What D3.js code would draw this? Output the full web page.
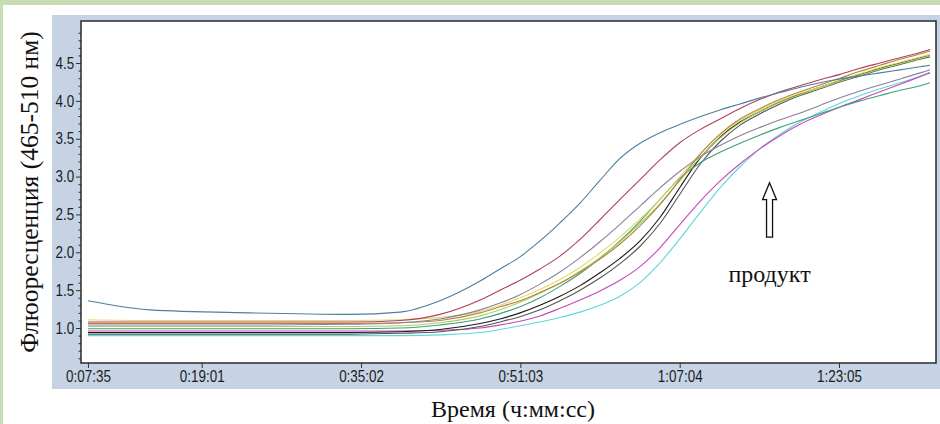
<!DOCTYPE html>
<html>
<head>
<meta charset="utf-8">
<script src="https://cdn.jsdelivr.net/npm/d3@7"></script>
<style>
  body { margin: 0; background: #ffffff; }
  svg { display: block; }
</style>
</head>
<body>
<script>
// time points, seconds from start
var times = [455, 829, 1432, 2035, 2337, 2578, 2820, 2940, 3061, 3181, 3302, 3423, 3543, 3664, 3785,
             3905, 4026, 4146, 4267, 4388, 4509, 4629, 4750, 4870, 4991, 5112, 5232, 5353, 5474, 5534];

// fluorescence curves, one per sample
var steelBlue = [1.36, 1.24, 1.20, 1.18, 1.21, 1.36, 1.62, 1.78, 1.94, 2.15, 2.39, 2.65, 2.95, 3.24, 3.44,
                 3.58, 3.69, 3.79, 3.88, 3.96, 4.04, 4.11, 4.18, 4.24, 4.29, 4.33, 4.37, 4.41, 4.45, 4.47];
var red       = [1.08, 1.08, 1.08, 1.08, 1.10, 1.18, 1.37, 1.50, 1.63, 1.78, 1.95, 2.17, 2.43, 2.70, 2.96,
                 3.22, 3.45, 3.62, 3.76, 3.90, 4.02, 4.12, 4.20, 4.28, 4.35, 4.43, 4.50, 4.57, 4.64, 4.68];
var greyViolet = [1.04, 1.04, 1.04, 1.05, 1.07, 1.12, 1.24, 1.33, 1.44, 1.58, 1.74, 1.93, 2.14, 2.37, 2.61,
                 2.85, 3.07, 3.26, 3.41, 3.54, 3.65, 3.75, 3.84, 3.94, 4.04, 4.13, 4.21, 4.29, 4.37, 4.41];
var yellow    = [1.11, 1.10, 1.10, 1.10, 1.11, 1.14, 1.22, 1.30, 1.40, 1.51, 1.64, 1.80, 1.99, 2.20, 2.44,
                 2.70, 3.00, 3.30, 3.55, 3.74, 3.88, 4.00, 4.10, 4.18, 4.28, 4.36, 4.44, 4.51, 4.58, 4.62];
var lightGreen = [1.02, 1.02, 1.02, 1.02, 1.03, 1.07, 1.16, 1.24, 1.34, 1.46, 1.59, 1.75, 1.93, 2.14, 2.38,
                 2.64, 2.95, 3.25, 3.51, 3.71, 3.86, 3.98, 4.08, 4.17, 4.26, 4.34, 4.42, 4.49, 4.56, 4.60];
var tealGreen = [0.99, 0.99, 0.99, 0.99, 1.00, 1.04, 1.12, 1.19, 1.28, 1.40, 1.55, 1.72, 1.92, 2.15, 2.41,
                 2.70, 2.98, 3.18, 3.32, 3.44, 3.55, 3.65, 3.74, 3.83, 3.92, 4.00, 4.07, 4.14, 4.20, 4.24];
var brown     = [1.06, 1.06, 1.06, 1.06, 1.07, 1.10, 1.20, 1.28, 1.36, 1.47, 1.59, 1.74, 1.91, 2.11, 2.35,
                 2.63, 2.96, 3.29, 3.56, 3.76, 3.90, 4.02, 4.12, 4.21, 4.30, 4.39, 4.47, 4.55, 4.62, 4.66];
var black1    = [0.94, 0.94, 0.94, 0.94, 0.95, 0.98, 1.06, 1.12, 1.20, 1.30, 1.42, 1.56, 1.73, 1.92, 2.15,
                 2.46, 2.86, 3.24, 3.52, 3.72, 3.86, 3.99, 4.09, 4.18, 4.27, 4.35, 4.43, 4.50, 4.57, 4.60];
var black2    = [0.92, 0.92, 0.92, 0.92, 0.93, 0.95, 1.02, 1.08, 1.15, 1.24, 1.36, 1.50, 1.66, 1.85, 2.08,
                 2.38, 2.77, 3.16, 3.46, 3.68, 3.83, 3.96, 4.07, 4.16, 4.25, 4.33, 4.41, 4.48, 4.55, 4.58];
var magenta   = [0.96, 0.96, 0.96, 0.96, 0.96, 0.97, 1.00, 1.04, 1.09, 1.16, 1.26, 1.37, 1.49, 1.63, 1.81,
                 2.06, 2.37, 2.67, 2.94, 3.17, 3.37, 3.54, 3.69, 3.81, 3.92, 4.02, 4.12, 4.22, 4.32, 4.37];
var cyan      = [0.90, 0.90, 0.90, 0.90, 0.90, 0.91, 0.94, 0.98, 1.03, 1.08, 1.14, 1.21, 1.30, 1.42, 1.60,
                 1.86, 2.18, 2.52, 2.85, 3.13, 3.37, 3.56, 3.72, 3.85, 3.97, 4.07, 4.16, 4.24, 4.33, 4.38];

var seriesNames  = ["cyan", "magenta", "black2", "black1", "tealGreen", "lightGreen", "yellow", "brown", "greyViolet", "red", "steelBlue"];
var seriesValues = [cyan, magenta, black2, black1, tealGreen, lightGreen, yellow, brown, greyViolet, red, steelBlue];
var seriesColors = ["#5fd6da", "#c848b8", "#555555", "#1a1a1a", "#3f9f7a", "#a4d25c", "#e4da6c", "#b8823e", "#8c8098", "#b0405c", "#4d7f9e"];

var xTickValues = [455, 1141, 2102, 3063, 4024, 4985];
var xTickLabels = ["0:07:35", "0:19:01", "0:35:02", "0:51:03", "1:07:04", "1:23:05"];
var yTickValues = [1.0, 1.5, 2.0, 2.5, 3.0, 3.5, 4.0, 4.5];

var annotation = { label: "продукт", time: 4566, tip: 2.92, base: 2.2, text: 1.61 };

var W = 940, H = 424;
var plot = { left: 81, right: 936, top: 21, bottom: 363 };

var svg = d3.select("body").append("svg")
  .attr("width", W)
  .attr("height", H);

// page frame
svg.append("rect").attr("width", W).attr("height", H).attr("fill", "#c7dcb3");
svg.append("rect").attr("x", 3).attr("y", 5).attr("width", W - 3).attr("height", H - 5).attr("fill", "#ffffff");
svg.append("rect").attr("x", 52).attr("y", 15).attr("width", W - 52).attr("height", 374).attr("fill", "#c6d3e4");

var x = d3.scaleLinear().domain([413, 5570]).range([plot.left, plot.right]);
var y = d3.scaleLinear().domain([0.538, 5.055]).range([plot.bottom, plot.top]);

svg.append("rect")
  .attr("x", plot.left).attr("y", plot.top)
  .attr("width", plot.right - plot.left).attr("height", plot.bottom - plot.top)
  .attr("fill", "#ffffff");

svg.append("clipPath").attr("id", "clip")
  .append("rect")
  .attr("x", plot.left).attr("y", plot.top)
  .attr("width", plot.right - plot.left).attr("height", plot.bottom - plot.top);

var line = d3.line()
  .x(function(d, i) { return x(times[i]); })
  .y(function(d) { return y(d); })
  .curve(d3.curveMonotoneX);

svg.append("g").attr("clip-path", "url(#clip)")
  .selectAll("path")
  .data(seriesValues)
  .join("path")
  .attr("d", line)
  .attr("fill", "none")
  .attr("stroke", function(d, i) { return seriesColors[i]; })
  .attr("stroke-width", 1.1);

// axes
svg.append("g")
  .attr("transform", "translate(" + plot.left + ",0)")
  .call(d3.axisLeft(y).tickValues(yTickValues).tickFormat(d3.format(".1f")).tickSize(5).tickPadding(3));

var minor = d3.range(6, 51).map(function(v) { return v / 10; })
  .filter(function(v) { return Math.round(v * 10) % 5 !== 0; });
svg.append("g")
  .attr("transform", "translate(" + plot.left + ",0)")
  .call(d3.axisLeft(y).tickValues(minor).tickFormat("").tickSize(2.5));

svg.append("g")
  .attr("transform", "translate(0," + plot.bottom + ")")
  .call(d3.axisBottom(x).tickValues(xTickValues)
    .tickFormat(function(d, i) { return xTickLabels[i]; })
    .tickSize(5).tickPadding(3));

svg.selectAll(".domain").remove();
svg.selectAll(".tick line").attr("stroke", "#333");
svg.selectAll(".tick text")
  .attr("font-family", "'Liberation Sans', Arial, sans-serif")
  .attr("font-size", 16)
  .attr("fill", "#1c1c1c")
  .attr("transform", "scale(0.84,1)");

// plot border
svg.append("rect")
  .attr("x", plot.left).attr("y", plot.top)
  .attr("width", plot.right - plot.left).attr("height", plot.bottom - plot.top)
  .attr("fill", "none")
  .attr("stroke", "#2a2a2a")
  .attr("stroke-width", 1.5);

// axis titles
svg.append("text")
  .attr("transform", "translate(38,192) rotate(-90)")
  .attr("text-anchor", "middle")
  .attr("font-family", "'Liberation Serif', 'Times New Roman', serif")
  .attr("font-size", 25.5)
  .attr("fill", "#111")
  .text("Флюоресценция (465-510 нм)");

svg.append("text")
  .attr("x", 513).attr("y", 417)
  .attr("text-anchor", "middle")
  .attr("font-family", "'Liberation Serif', 'Times New Roman', serif")
  .attr("font-size", 24)
  .attr("fill", "#111")
  .text("Время (ч:мм:сс)");

// product arrow
var ax = x(annotation.time), tipY = y(annotation.tip), baseY = y(annotation.base);
var headY = tipY + 17;
svg.append("path")
  .attr("d", "M" + ax + "," + tipY +
    "L" + (ax + 7) + "," + headY + "L" + (ax + 3) + "," + headY +
    "L" + (ax + 3) + "," + baseY + "L" + (ax - 3) + "," + baseY +
    "L" + (ax - 3) + "," + headY + "L" + (ax - 7) + "," + headY + "Z")
  .attr("fill", "#fff")
  .attr("stroke", "#111")
  .attr("stroke-width", 1.3);

svg.append("text")
  .attr("x", ax).attr("y", y(annotation.text))
  .attr("text-anchor", "middle")
  .attr("font-family", "'Liberation Serif', 'Times New Roman', serif")
  .attr("font-size", 24)
  .attr("fill", "#111")
  .text(annotation.label);
</script>
</body>
</html>
